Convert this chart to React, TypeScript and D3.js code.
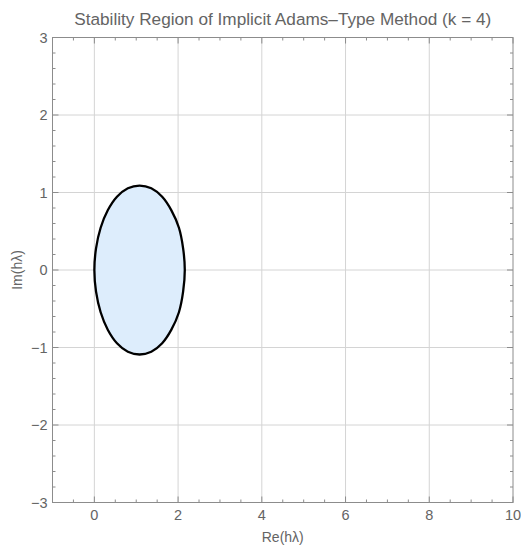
import React from 'react';
import * as d3 from 'd3';

// boundary of the stability region (closed curve)
const reVals = [2.16, 2.12, 2.02, 1.84, 1.62, 1.36, 1.08, 0.80, 0.54, 0.32, 0.15, 0.04, 0.0,
  0.04, 0.15, 0.32, 0.54, 0.80, 1.08, 1.36, 1.62, 1.84, 2.02, 2.12];
const imVals = [0.0, 0.28, 0.545, 0.77, 0.945, 1.055, 1.09, 1.055, 0.945, 0.77, 0.545, 0.28, 0.0,
  -0.28, -0.545, -0.77, -0.945, -1.055, -1.09, -1.055, -0.945, -0.77, -0.545, -0.28];

const xTicks = [0, 2, 4, 6, 8, 10];
const yTicks = [-3, -2, -1, 0, 1, 2, 3];
const xDomain = [-1, 10];
const yDomain = [-3, 3];

const W = 521, H = 552;
const margin = {top: 37.5, right: 8, bottom: 49.5, left: 52.5};

function fmt(v: number) {
  return v < 0 ? '\u2212' + Math.abs(v) : String(v);
}

export default function App() {
  const x = d3.scaleLinear().domain(xDomain).range([margin.left, W - margin.right]);
  const y = d3.scaleLinear().domain(yDomain).range([H - margin.bottom, margin.top]);
  const pts: [number, number][] = reVals.map((r, i) => [r, imVals[i]]);
  const line = d3.line<[number, number]>()
    .x(d => x(d[0]))
    .y(d => y(d[1]))
    .curve(d3.curveCatmullRomClosed.alpha(0.5));

  const x0 = margin.left, x1 = W - margin.right, y0 = margin.top, y1 = H - margin.bottom;
  const xMinor = d3.range(-1, 10.001, 0.5).filter(v => Math.abs(v % 2) > 1e-6);
  const yMinor = d3.range(-3, 3.001, 0.2).filter(v => Math.abs(v - Math.round(v)) > 1e-6);
  const gridC = '#d4d4d4', frameC = '#8c8c8c', textC = '#646464';
  const font = '"Liberation Sans", Arial, sans-serif';

  return (
    <div style={{position: 'absolute', left: 0, top: 0}}>
      <svg width={W} height={H} style={{display: 'block', fontFamily: font}}>
        <rect width={W} height={H} fill="#fff" />
        {/* grid */}
        {xTicks.filter(v => v > xDomain[0] && v < xDomain[1]).map(v => (
          <line key={'gx' + v} x1={x(v)} x2={x(v)} y1={y0} y2={y1} stroke={gridC} strokeWidth={1} />
        ))}
        {yTicks.filter(v => v > yDomain[0] && v < yDomain[1]).map(v => (
          <line key={'gy' + v} x1={x0} x2={x1} y1={y(v)} y2={y(v)} stroke={gridC} strokeWidth={1} />
        ))}
        {/* region */}
        <path d={line(pts) || ''} fill="#ddedfc" stroke="#000" strokeWidth={2.3} strokeLinejoin="round" />
        {/* frame */}
        <rect x={x0} y={y0} width={x1 - x0} height={y1 - y0} fill="none" stroke={frameC} strokeWidth={1} />
        {/* ticks */}
        {xMinor.map(v => (
          <g key={'mx' + v} stroke={frameC}>
            <line x1={x(v)} x2={x(v)} y1={y1} y2={y1 - 3} />
            <line x1={x(v)} x2={x(v)} y1={y0} y2={y0 + 3} />
          </g>
        ))}
        {yMinor.map(v => (
          <g key={'my' + v} stroke={frameC}>
            <line x1={x0} x2={x0 + 3} y1={y(v)} y2={y(v)} />
            <line x1={x1} x2={x1 - 3} y1={y(v)} y2={y(v)} />
          </g>
        ))}
        {xTicks.map(v => (
          <g key={'tx' + v} stroke={frameC}>
            <line x1={x(v)} x2={x(v)} y1={y1} y2={y1 - 6} />
            <line x1={x(v)} x2={x(v)} y1={y0} y2={y0 + 6} />
          </g>
        ))}
        {yTicks.map(v => (
          <g key={'ty' + v} stroke={frameC}>
            <line x1={x0} x2={x0 + 6} y1={y(v)} y2={y(v)} />
            <line x1={x1} x2={x1 - 6} y1={y(v)} y2={y(v)} />
          </g>
        ))}
        {/* tick labels */}
        {xTicks.map(v => (
          <text key={'lx' + v} x={x(v)} y={y1 + 17} textAnchor="middle" fontSize={14.5} fill={textC}>{fmt(v)}</text>
        ))}
        {yTicks.map(v => (
          <text key={'ly' + v} x={x0 - 5} y={y(v) + 5} textAnchor="end" fontSize={14.5} fill={textC}>{fmt(v)}</text>
        ))}
        {/* axis labels */}
        <text x={(x0 + x1) / 2} y={542} textAnchor="middle" fontSize={14} fill={textC}>Re(hλ)</text>
        <text transform={`translate(22,${(y0 + y1) / 2}) rotate(-90)`} textAnchor="middle" fontSize={14} fill={textC}>Im(hλ)</text>
        {/* title */}
        <text x={(x0 + x1) / 2} y={25} textAnchor="middle" fontSize={17.2} fill={textC}>Stability Region of Implicit Adams–Type Method (k = 4)</text>
      </svg>
    </div>
  );
}
